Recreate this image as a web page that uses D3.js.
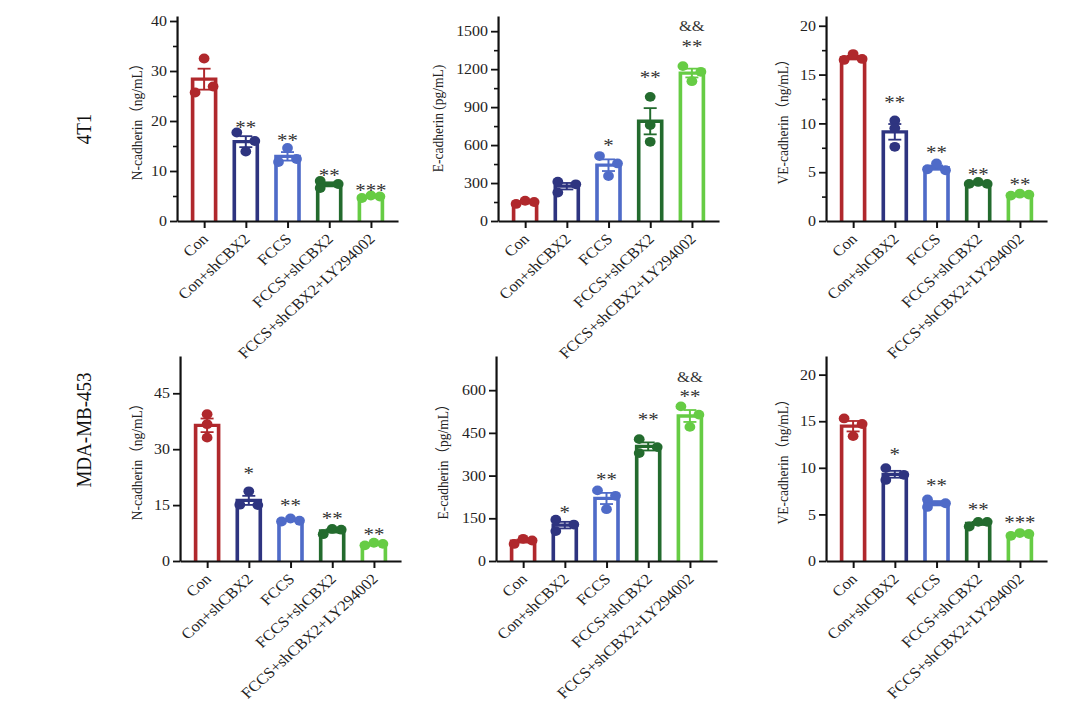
<!DOCTYPE html>
<html>
<head>
<meta charset="utf-8">
<script src="https://cdn.jsdelivr.net/npm/d3@7"></script>
<style>
  body { margin: 0; background: #fff; }
  svg { display: block; font-family: "Liberation Serif", "Times New Roman", "Noto Sans CJK SC", serif; }
</style>
</head>
<body>
<script>
(function(){

// groups and colours shared by all six panels
var groups = ["Con", "Con+shCBX2", "FCCS", "FCCS+shCBX2", "FCCS+shCBX2+LY294002"];
var colors = ["#b0282c", "#2e3480", "#4f6bc8", "#236b2e", "#66cc44"];
var rowLabels = ["4T1", "MDA-MB-453"];

// replicate values (three per group)
var n4t1  = [[25.7, 32.5, 26.9], [17.7, 13.9, 16.0], [11.8, 14.6, 12.4], [8.0, 6.6, 7.4], [4.6, 5.1, 4.9]];
var e4t1  = [[135, 160, 150], [310, 225, 290], [513, 355, 455], [981, 758, 626], [1224, 1105, 1179]];
var ve4t1 = [[16.5, 17.1, 16.6], [10.3, 9.5, 7.6], [5.3, 5.9, 5.2], [3.8, 4.0, 3.8], [2.6, 2.8, 2.7]];
var nMda  = [[39.4, 36.7, 33.1], [15.1, 18.7, 15.0], [10.6, 11.4, 10.8], [7.2, 8.6, 8.4], [4.2, 4.9, 4.6]];
var eMda  = [[60, 78, 72], [145, 105, 128], [248, 182, 229], [428, 379, 400], [543, 471, 514]];
var veMda = [[15.3, 13.4, 14.7], [9.97, 8.7, 9.25], [6.6, 5.8, 6.2], [3.7, 4.2, 4.2], [2.7, 3.0, 2.9]];

// which side of the bar each replicate dot sits on (-1 left, 0 centre, 1 right)
var n4t1Side  = [[-1, 0, 1], [-1, 0, 1], [-1, 0, 1], [-1, -1, 1], [-1, 0, 1]];
var e4t1Side  = [[-1, 0, 1], [-1, -1, 1], [-1, 0, 1], [0, 0, 0], [-1, 0, 1]];
var ve4t1Side = [[-1, 0, 1], [0, 0, 0], [-1, 0, 1], [-1, 0, 1], [-1, 0, 1]];
var nMdaSide  = [[0, 0, 0], [-1, 0, 1], [-1, 0, 1], [-1, 0, 1], [-1, 0, 1]];
var eMdaSide  = [[-1, 0, 1], [-1, -1, 1], [-1, 0, 1], [-1, -1, 1], [-1, 0, 1]];
var veMdaSide = [[-1, 0, 1], [-1, -1, 1], [-1, -1, 1], [-1, 0, 1], [-1, 0, 1]];

// significance marks and the value they sit at
var sigN4t1  = ["", "**", "**", "**", "***"],  sigN4t1At  = [0, 19.3, 16.7, 9.6, 6.6];
var sigE4t1  = ["", "", "*", "**", "**"],      sigE4t1At  = [0, 0, 616, 1160, 1405];
var ampE4t1  = ["", "", "", "", "&&"],         ampE4t1At  = [0, 0, 0, 0, 1540];
var sigVe4t1 = ["", "**", "**", "**", "**"],   sigVe4t1At = [0, 12.4, 7.3, 5.0, 4.0];
var sigNMda  = ["", "*", "**", "**", "**"],    sigNMdaAt  = [0, 24.1, 15.7, 12.1, 7.9];
var sigEMda  = ["", "*", "**", "**", "**"],    sigEMdaAt  = [0, 180, 297, 507, 588];
var ampEMda  = ["", "", "", "", "&&"],         ampEMdaAt  = [0, 0, 0, 0, 645];
var sigVeMda = ["", "*", "**", "**", "***"],   sigVeMdaAt = [0, 11.75, 8.4, 5.85, 4.4];

// axis ticks
var n4t1Ticks = [0, 10, 20, 30, 40],  n4t1Minor = [5, 15, 25, 35];
var e4t1Ticks = [0, 300, 600, 900, 1200, 1500], e4t1Minor = [150, 450, 750, 1050, 1350];
var ve4t1Ticks = [0, 5, 10, 15, 20], ve4t1Minor = [2.5, 7.5, 12.5, 17.5];
var nMdaTicks = [0, 15, 30, 45];
var eMdaTicks = [0, 150, 300, 450, 600];
var veMdaTicks = [0, 5, 10, 15, 20];

// the whole figure is slightly stretched horizontally
var SX = 1.1;

var panels = [
    {title: "N-cadherin\uFF08ng/mL\uFF09", max: 41, ticks: n4t1Ticks, minor: n4t1Minor, ax: 177, y0: 221, titleX: 137,
     vals: n4t1, side: n4t1Side, sig: sigN4t1, sigAt: sigN4t1At},
    {title: "E-cadherin (pg/mL)", max: 1620, ticks: e4t1Ticks, minor: e4t1Minor, ax: 498, y0: 221, titleX: 438,
     vals: e4t1, side: e4t1Side, sig: sigE4t1, sigAt: sigE4t1At, amp: ampE4t1, ampAt: ampE4t1At},
    {title: "VE-cadherin\uFF08ng/mL\uFF09", max: 21, ticks: ve4t1Ticks, minor: ve4t1Minor, ax: 826, y0: 221, titleX: 783,
     vals: ve4t1, side: ve4t1Side, sig: sigVe4t1, sigAt: sigVe4t1At},
    {title: "N-cadherin\uFF08ng/mL\uFF09", max: 55, ticks: nMdaTicks, minor: [], ax: 180, y0: 561, titleX: 137,
     vals: nMda, side: nMdaSide, sig: sigNMda, sigAt: sigNMdaAt},
    {title: "E-cadherin\uFF08pg/mL\uFF09", max: 720, ticks: eMdaTicks, minor: [], ax: 496, y0: 561, titleX: 443,
     vals: eMda, side: eMdaSide, sig: sigEMda, sigAt: sigEMdaAt, amp: ampEMda, ampAt: ampEMdaAt},
    {title: "VE-cadherin\uFF08ng/mL\uFF09", max: 22, ticks: veMdaTicks, minor: [], ax: 826, y0: 561, titleX: 783,
     vals: veMda, side: veMdaSide, sig: sigVeMda, sigAt: sigVeMdaAt}
];

var svg = d3.select("body")
    .append("svg")
    .attr("width", 1078)
    .attr("height", 710);

var root = svg.append("g")
    .attr("transform", "scale(" + SX + ",1)");

// row labels
var rowY = [129, 430];
rowLabels.forEach(function(lab, i){
    root.append("text")
        .attr("transform", "translate(" + (84 / SX) + "," + rowY[i] + ") rotate(-90)")
        .attr("text-anchor", "middle")
        .attr("dominant-baseline", "central")
        .style("font-size", "19px")
        .style("fill", "#111")
        .text(lab);
});

panels.forEach(drawPanel);

function drawPanel(p){
    var axisH = 205;
    var g = root.append("g");

    var y = d3.scaleLinear()
        .domain([0, p.max])
        .range([p.y0, p.y0 - axisH]);

    var x = d3.scalePoint()
        .domain(groups)
        .range([p.ax / SX, (p.ax + 221) / SX])
        .padding(0.65);

    var barW = 23 / SX,
        spread = 9 / SX,
        capW = 6.5 / SX;

    // bars, error bars and dots
    groups.forEach(function(grp, i){
        var v = p.vals[i],
            m = d3.mean(v),
            sem = d3.deviation(v) / Math.sqrt(v.length),
            cx = x(grp),
            col = colors[i];

        g.append("path")
            .attr("d", "M" + (cx - barW / 2) + "," + y(0) + "V" + y(m) + "H" + (cx + barW / 2) + "V" + y(0))
            .style("fill", "#fff")
            .style("stroke", col)
            .style("stroke-width", 3.3);

        g.append("line")
            .attr("x1", cx).attr("x2", cx)
            .attr("y1", y(m - sem)).attr("y2", y(m + sem))
            .style("stroke", col).style("stroke-width", 1.8);

        [m - sem, m + sem].forEach(function(e){
            g.append("line")
                .attr("x1", cx - capW).attr("x2", cx + capW)
                .attr("y1", y(e)).attr("y2", y(e))
                .style("stroke", col).style("stroke-width", 1.8);
        });

        g.selectAll(null)
            .data(v)
            .enter()
            .append("circle")
            .attr("cx", function(d, k){ return cx + p.side[i][k] * spread; })
            .attr("cy", function(d){ return y(d); })
            .attr("r", 4.9)
            .style("fill", col);

        if (p.sig[i]) {
            g.append("text")
                .attr("x", cx)
                .attr("y", y(p.sigAt[i]) + 9.3)
                .attr("text-anchor", "middle")
                .style("font-size", "19px")
                .style("fill", "#333")
                .text(p.sig[i]);
        }
        if (p.amp && p.amp[i]) {
            g.append("text")
                .attr("x", cx)
                .attr("y", y(p.ampAt[i]) + 5)
                .attr("text-anchor", "middle")
                .style("font-size", "15px")
                .style("fill", "#333")
                .text(p.amp[i]);
        }
    });

    // y axis
    var yAxis = g.append("g")
        .attr("transform", "translate(" + (p.ax / SX) + ",0)")
        .call(d3.axisLeft(y).tickValues(p.ticks).tickFormat(d3.format("d"))
            .tickSize(7 / SX).tickSizeOuter(0).tickPadding(3 / SX));
    yAxis.select(".domain").style("stroke", "#111").style("stroke-width", 2);
    yAxis.selectAll(".tick line").style("stroke", "#111").style("stroke-width", 1.8);
    yAxis.selectAll(".tick text")
        .style("font-size", "14.5px")
        .style("font-family", "Liberation Serif, serif")
        .style("fill", "#222");

    if (p.minor.length) {
        var minorAxis = g.append("g")
            .attr("transform", "translate(" + (p.ax / SX) + ",0)")
            .call(d3.axisLeft(y).tickValues(p.minor).tickSize(4 / SX).tickFormat(""));
        minorAxis.select(".domain").remove();
        minorAxis.selectAll(".tick line").style("stroke", "#111").style("stroke-width", 1.6);
    }

    // x axis
    var xAxis = g.append("g")
        .attr("transform", "translate(0," + p.y0 + ")")
        .call(d3.axisBottom(x).tickSize(7).tickSizeOuter(0).tickFormat(""));
    xAxis.select(".domain").style("stroke", "#111").style("stroke-width", 2);
    xAxis.selectAll(".tick line").style("stroke", "#111").style("stroke-width", 1.8);

    g.selectAll(null)
        .data(groups)
        .enter()
        .append("text")
        .attr("transform", function(d){
            return "translate(" + (x(d) + 5 / SX) + "," + (p.y0 + 19) + ") rotate(-45)";
        })
        .attr("text-anchor", "end")
        .style("font-size", "15px")
        .style("fill", "#222")
        .text(function(d){ return d; });

    // y axis title
    g.append("text")
        .attr("transform", "translate(" + (p.titleX / SX) + "," + (p.y0 - axisH / 2) + ") rotate(-90)")
        .attr("text-anchor", "middle")
        .attr("dominant-baseline", "central")
        .style("font-size", "13.5px")
        .style("fill", "#222")
        .text(p.title);
}

})();
</script>
</body>
</html>
